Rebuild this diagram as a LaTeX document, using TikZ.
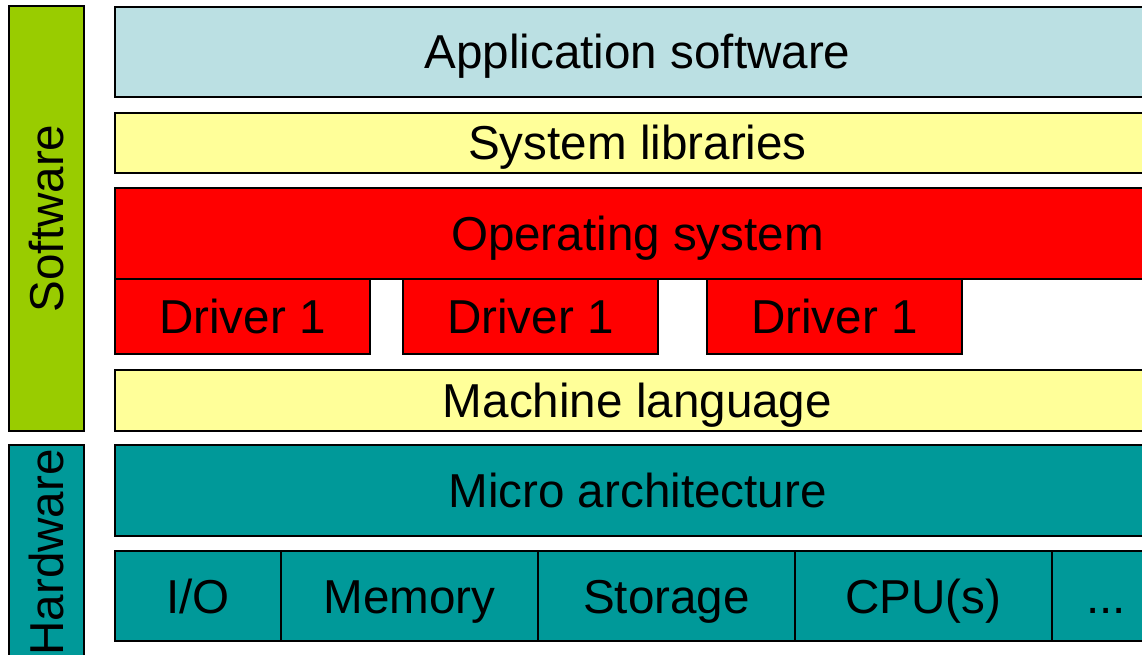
\documentclass[tikz,border=0pt]{standalone}
\usepackage{fontspec}
\setmainfont{Liberation Sans}
\definecolor{swgreen}{HTML}{99CC00}
\definecolor{appblue}{HTML}{BBE0E3}
\definecolor{libyellow}{HTML}{FFFF99}
\definecolor{hwteal}{HTML}{009999}
\tikzset{
  layer/.style={draw=black, line width=2pt, inner sep=0pt, minimum height=#1,
    text height=34pt, text depth=0pt,
    font=\fontsize{47.6}{50}\selectfont},
  layer/.default=90pt,
  side/.style={layer=75pt, rotate=90}
}
\begin{document}
\begin{tikzpicture}[x=1pt,y=-1pt]
  \useasboundingbox (0,0) rectangle (1142,655);
  \clip (0,0) rectangle (1142,655);
  % side bars
  \node[side, fill=swgreen, minimum width=425pt] (software) at (46.5,218.5) {Software};
  \node[side, fill=hwteal, minimum width=215pt] (hardware) at (46.5,552.5) {Hardware};

  % software layers
  \node[layer=90pt, fill=appblue, minimum width=1045pt] (app) at (637.5,52) {Application software};
  \node[layer=60pt, fill=libyellow, minimum width=1045pt] (libs) at (637.5,143) {System libraries};
  \node[layer=91pt, fill=red, minimum width=1045pt] (os) at (637.5,233.5) {Operating system};
  \foreach \cx/\name in {242.5/drvA, 530.5/drvB, 834.5/drvC}
    \node[layer=75pt, fill=red, minimum width=255pt] (\name) at (\cx,316.5) {Driver 1};
  \node[layer=61pt, fill=libyellow, minimum width=1045pt] (mach) at (637.5,400.5) {Machine language};

  % hardware layers
  \node[layer=91pt, fill=hwteal, minimum width=1045pt] (micro) at (637.5,490.5) {Micro architecture};
  \foreach \cx/\w/\name/\txt in {198/166/io/{I/O}, 409.5/257/mem/Memory, 666.5/257/stor/Storage,
      923.5/257/cpu/CPU(s)}
    \node[layer=90pt, fill=hwteal, minimum width=\w pt] (\name) at (\cx,596) {\txt};
  \node[layer=90pt, fill=hwteal, minimum width=108pt] (more) at (1106,596) {...};
\end{tikzpicture}
\end{document}
